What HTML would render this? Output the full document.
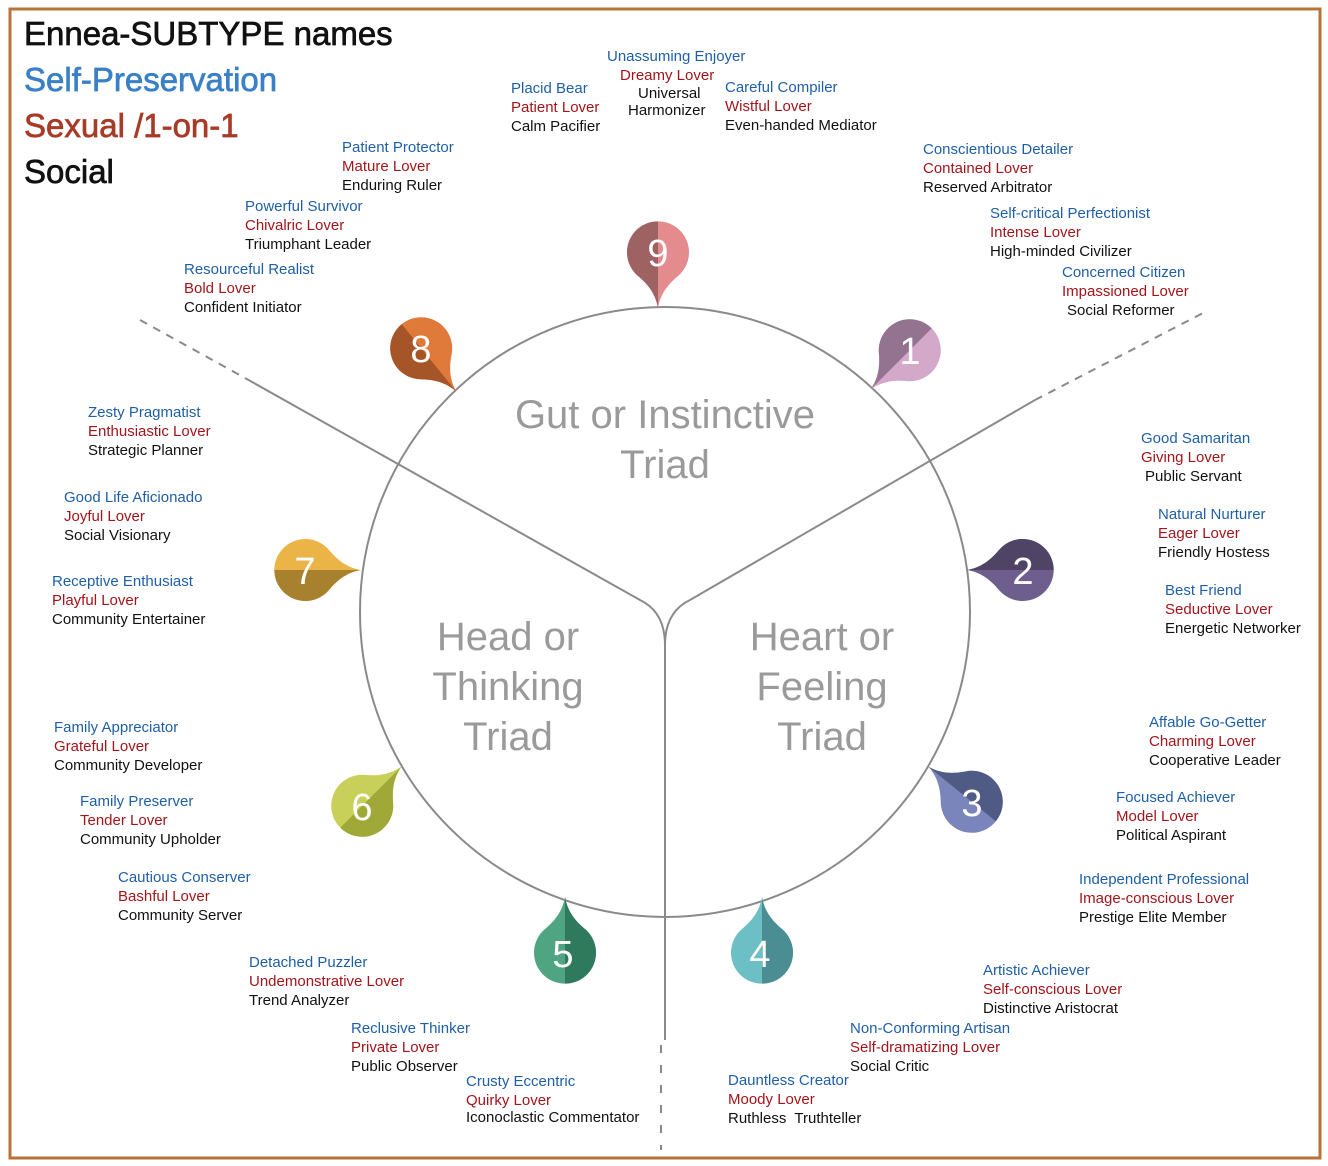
<!DOCTYPE html>
<html><head><meta charset="utf-8"><style>
body{margin:0;background:#fff;}
#w{position:relative;width:1328px;height:1166px;overflow:hidden;font-family:"Liberation Sans",sans-serif;}
.b{position:absolute;font-size:15px;line-height:19px;white-space:nowrap;}
.u{color:#1f5fa8}.r{color:#a3151a}.k{color:#111}
.h{position:absolute;font-size:33px;line-height:46px;white-space:nowrap;-webkit-text-stroke:0.7px currentColor;}
</style></head><body><div id="w">
<svg width="1328" height="1166" style="position:absolute;left:0;top:0">
<rect x="10" y="9" width="1310" height="1149" fill="none" stroke="#b8733a" stroke-width="3"/>
<circle cx="665" cy="612" r="305" fill="none" stroke="#8a8a8a" stroke-width="2"/>
<g stroke="#8a8a8a" stroke-width="2" fill="none">
<path d="M245,378 L640,600 Q665,612 665,645 L665,1040"/>
<path d="M1035,400 L690,600 Q665,612 665,645"/>
<path d="M140,320 L245,378" stroke-dasharray="8,7"/>
<path d="M1035,400 L1205,312" stroke-dasharray="8,7"/>
<path d="M661,1045 L661,1150" stroke-dasharray="8,12"/>
</g>
<defs>
<path id="pin" d="M0,56 C2,44 8,34 20,24 A31,31 0 1 0 -20,24 C-8,34 -2,44 0,56 Z"/>
<clipPath id="half"><rect x="-40" y="-40" width="40" height="100"/></clipPath>
</defs>
<g transform="translate(658,252)"><use href="#pin" fill="#e38b8d"/><use href="#pin" fill="#9e6263" clip-path="url(#half)"/></g>
<g transform="translate(910,350) rotate(45)"><use href="#pin" fill="#d4a8c8"/><use href="#pin" fill="#93738f" clip-path="url(#half)"/></g>
<g transform="translate(1023,570) rotate(90)"><use href="#pin" fill="#6e5e8e"/><use href="#pin" fill="#4f4366" clip-path="url(#half)"/></g>
<g transform="translate(972,802) rotate(129)"><use href="#pin" fill="#7a85bb"/><use href="#pin" fill="#4f5a85" clip-path="url(#half)"/></g>
<g transform="translate(762,953) rotate(180)"><use href="#pin" fill="#6dbfc6"/><use href="#pin" fill="#4a8d93" clip-path="url(#half)"/></g>
<g transform="translate(565,953) rotate(180)"><use href="#pin" fill="#4fa582"/><use href="#pin" fill="#2f7a5c" clip-path="url(#half)"/></g>
<g transform="translate(362,806) rotate(-135)"><use href="#pin" fill="#c9d05a"/><use href="#pin" fill="#a0a838" clip-path="url(#half)"/></g>
<g transform="translate(305,570) rotate(-90)"><use href="#pin" fill="#eab447"/><use href="#pin" fill="#a8812f" clip-path="url(#half)"/></g>
<g transform="translate(421,348) rotate(-39)"><use href="#pin" fill="#e07a3a"/><use href="#pin" fill="#a55528" clip-path="url(#half)"/></g>
<g fill="#fff" font-family="Liberation Sans,sans-serif" font-size="38" text-anchor="middle">
<text x="658" y="266">9</text><text x="910" y="364">1</text><text x="1023" y="584">2</text>
<text x="972" y="816">3</text><text x="760" y="967">4</text><text x="563" y="967">5</text>
<text x="362" y="820">6</text><text x="305" y="584">7</text><text x="421" y="362">8</text>
</g>
<g fill="#9a9a9a" font-family="Liberation Sans,sans-serif" font-size="40" text-anchor="middle">
<text x="665" y="428">Gut or Instinctive</text><text x="665" y="478">Triad</text>
<text x="508" y="650">Head or</text><text x="508" y="700">Thinking</text><text x="508" y="750">Triad</text>
<text x="822" y="650">Heart or</text><text x="822" y="700">Feeling</text><text x="822" y="750">Triad</text>
</g>
</svg>
<div class="h" style="left:24px;top:11px;color:#111">Ennea-SUBTYPE names</div>
<div class="h" style="left:24px;top:57px;color:#3a80c6">Self-Preservation</div>
<div class="h" style="left:24px;top:103px;color:#a83a28">Sexual /1-on-1</div>
<div class="h" style="left:24px;top:149px;color:#111">Social</div>

<div class="b" style="left:607px;top:47px"><div class="u">Unassuming Enjoyer</div><div class="r" style="margin-left:13px">Dreamy Lover</div><div class="k" style="margin-left:31px;line-height:17px">Universal</div><div class="k" style="margin-left:21px;line-height:17px">Harmonizer</div></div>
<div class="b" style="left:511px;top:79px"><div class="u">Placid Bear</div><div class="r">Patient Lover</div><div class="k">Calm Pacifier</div></div>
<div class="b" style="left:725px;top:78px"><div class="u">Careful Compiler</div><div class="r">Wistful Lover</div><div class="k">Even-handed Mediator</div></div>
<div class="b" style="left:342px;top:138px"><div class="u">Patient Protector</div><div class="r">Mature Lover</div><div class="k">Enduring Ruler</div></div>
<div class="b" style="left:923px;top:140px"><div class="u">Conscientious Detailer</div><div class="r">Contained Lover</div><div class="k">Reserved Arbitrator</div></div>
<div class="b" style="left:245px;top:197px"><div class="u">Powerful Survivor</div><div class="r">Chivalric Lover</div><div class="k">Triumphant Leader</div></div>
<div class="b" style="left:990px;top:204px"><div class="u">Self-critical Perfectionist</div><div class="r">Intense Lover</div><div class="k">High-minded Civilizer</div></div>
<div class="b" style="left:184px;top:260px"><div class="u">Resourceful Realist</div><div class="r">Bold Lover</div><div class="k">Confident Initiator</div></div>
<div class="b" style="left:1062px;top:263px"><div class="u">Concerned Citizen</div><div class="r">Impassioned Lover</div><div class="k" style="margin-left:5px">Social Reformer</div></div>
<div class="b" style="left:88px;top:403px"><div class="u">Zesty Pragmatist</div><div class="r">Enthusiastic Lover</div><div class="k">Strategic Planner</div></div>
<div class="b" style="left:1141px;top:429px"><div class="u">Good Samaritan</div><div class="r">Giving Lover</div><div class="k" style="margin-left:4px">Public Servant</div></div>
<div class="b" style="left:64px;top:488px"><div class="u">Good Life Aficionado</div><div class="r">Joyful Lover</div><div class="k">Social Visionary</div></div>
<div class="b" style="left:1158px;top:505px"><div class="u">Natural Nurturer</div><div class="r">Eager Lover</div><div class="k">Friendly Hostess</div></div>
<div class="b" style="left:52px;top:572px"><div class="u">Receptive Enthusiast</div><div class="r">Playful Lover</div><div class="k">Community Entertainer</div></div>
<div class="b" style="left:1165px;top:581px"><div class="u">Best Friend</div><div class="r">Seductive Lover</div><div class="k">Energetic Networker</div></div>
<div class="b" style="left:54px;top:718px"><div class="u">Family Appreciator</div><div class="r">Grateful Lover</div><div class="k">Community Developer</div></div>
<div class="b" style="left:1149px;top:713px"><div class="u">Affable Go-Getter</div><div class="r">Charming Lover</div><div class="k">Cooperative Leader</div></div>
<div class="b" style="left:80px;top:792px"><div class="u">Family Preserver</div><div class="r">Tender Lover</div><div class="k">Community Upholder</div></div>
<div class="b" style="left:1116px;top:788px"><div class="u">Focused Achiever</div><div class="r">Model Lover</div><div class="k">Political Aspirant</div></div>
<div class="b" style="left:1079px;top:870px"><div class="u">Independent Professional</div><div class="r">Image-conscious Lover</div><div class="k">Prestige Elite Member</div></div>
<div class="b" style="left:118px;top:868px"><div class="u">Cautious Conserver</div><div class="r">Bashful Lover</div><div class="k">Community Server</div></div>
<div class="b" style="left:249px;top:953px"><div class="u">Detached Puzzler</div><div class="r">Undemonstrative Lover</div><div class="k">Trend Analyzer</div></div>
<div class="b" style="left:983px;top:961px"><div class="u">Artistic Achiever</div><div class="r">Self-conscious Lover</div><div class="k">Distinctive Aristocrat</div></div>
<div class="b" style="left:850px;top:1019px"><div class="u">Non-Conforming Artisan</div><div class="r">Self-dramatizing Lover</div><div class="k">Social Critic</div></div>
<div class="b" style="left:351px;top:1019px"><div class="u">Reclusive Thinker</div><div class="r">Private Lover</div><div class="k">Public Observer</div></div>
<div class="b" style="left:466px;top:1072px"><div class="u">Crusty Eccentric</div><div class="r">Quirky Lover</div><div class="k" style="line-height:16px">Iconoclastic Commentator</div></div>
<div class="b" style="left:728px;top:1071px"><div class="u">Dauntless Creator</div><div class="r">Moody Lover</div><div class="k">Ruthless&nbsp; Truthteller</div></div>
</div></body></html>
